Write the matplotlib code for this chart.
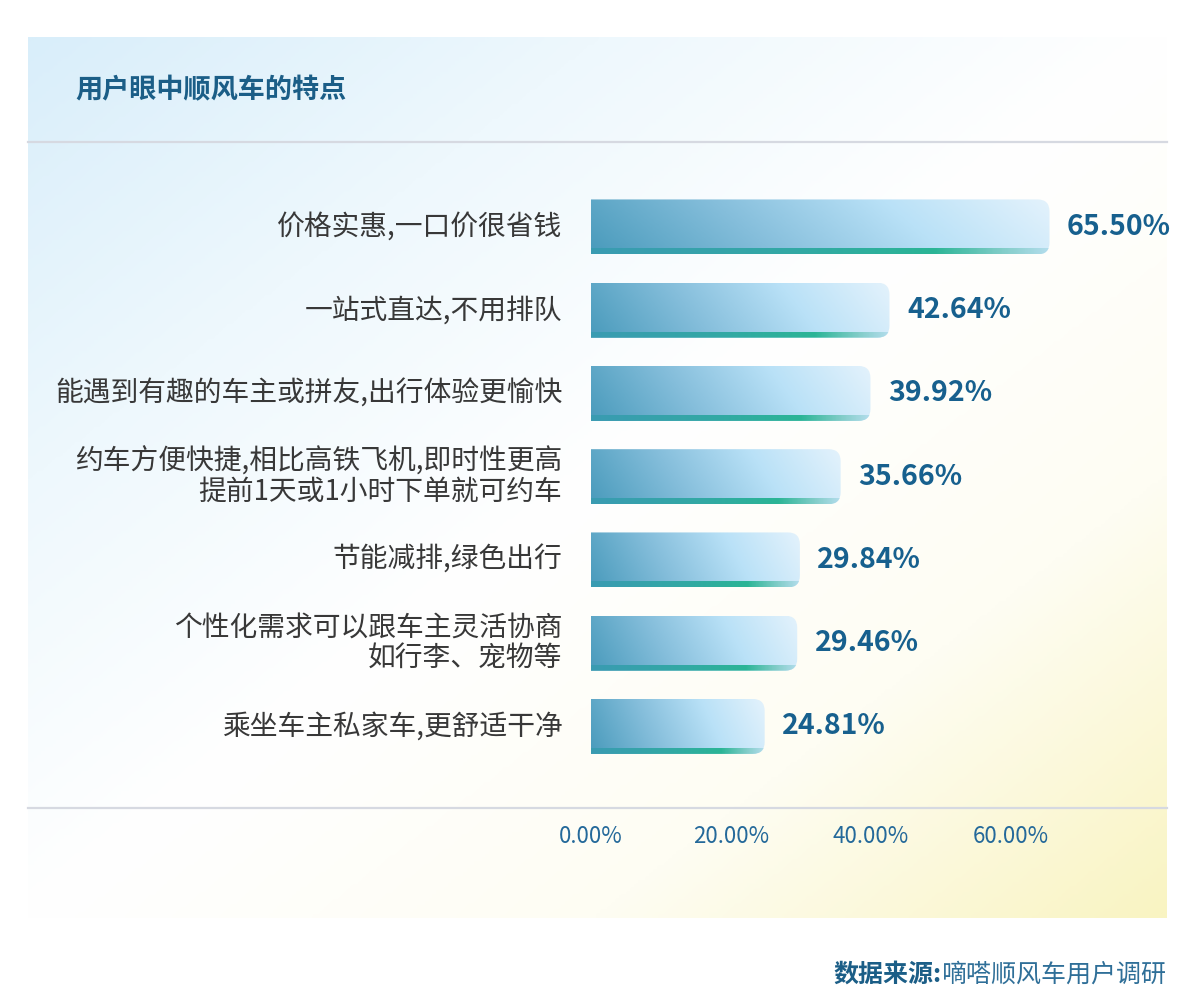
import numpy as np
import matplotlib
matplotlib.use("Agg")
import matplotlib.pyplot as plt
from matplotlib.colors import LinearSegmentedColormap
from matplotlib.patches import FancyBboxPatch

plt.rcParams['font.family'] = ['Noto Sans CJK SC', 'DejaVu Sans']

# 数据
title = "用户眼中顺风车的特点"
categories = [
    "价格实惠,一口价很省钱",
    "一站式直达,不用排队",
    "能遇到有趣的车主或拼友,出行体验更愉快",
    "约车方便快捷,相比高铁飞机,即时性更高\n提前1天或1小时下单就可约车",
    "节能减排,绿色出行",
    "个性化需求可以跟车主灵活协商\n如行李、宠物等",
    "乘坐车主私家车,更舒适干净",
]
values = [65.50, 42.64, 39.92, 35.66, 29.84, 29.46, 24.81]
xticks = [0, 20, 40, 60]
source_head = "数据来源:"
source_body = "嘀嗒顺风车用户调研"

W, H = 1200, 1008
fig = plt.figure(figsize=(W / 100, H / 100), dpi=100)

# 背景面板（渐变）
bg = fig.add_axes([0, 0, 1, 1])
bg.set_xlim(0, W)
bg.set_ylim(H, 0)
bg.axis('off')

bg_cmap = LinearSegmentedColormap.from_list(
    'bg', [(0.0, '#d9eefa'), (0.25, '#eef8fd'), (0.5, '#ffffff'),
           (0.75, '#fefdf3'), (1.0, '#f9f4c2')])
gx, gy = np.meshgrid(np.linspace(0, 1, 300), np.linspace(0, 1, 240))
bg.imshow(bg_cmap(0.5 * gx + 0.5 * gy), extent=(28, 1167, 918, 37),
          aspect='auto', interpolation='bilinear', zorder=0)
for yy in (142, 808):
    bg.plot([28, 1167], [yy, yy], color='#d6d9e1', lw=1.6, zorder=1)

bg.text(75, 90, title, fontsize=19.5, fontweight='bold', color='#1b5e87',
        va='center', ha='left')

src = bg.text(1167, 975, source_body, fontsize=18, color='#2f6f98',
              ha='right', va='center')
bg.annotate(source_head, xy=(0, 0.5), xycoords=src, fontsize=18,
            fontweight='bold', color='#1b5e87', ha='right', va='center')

# 主图
px_per_unit = 7.0
ax = fig.add_axes([591 / W, (H - 808) / H, 80 * px_per_unit / W, 666 / H])
ax.patch.set_alpha(0)

bar_cmap = LinearSegmentedColormap.from_list(
    'bar', [(0.0, '#4a9bbc'), (0.35, '#85bedb'), (0.68, '#b9e1f7'), (1.0, '#e3f2fc')])
strip_cmap = LinearSegmentedColormap.from_list(
    'strip', [(0.0, '#3a9bb2'), (0.45, '#32a9a4'), (0.75, '#2bb596'),
              (0.9, '#82cdc9'), (1.0, '#b3ddec')])

bh = 0.66
strip_h = 0.065
bx, by = np.meshgrid(np.linspace(0, 1, 200), np.linspace(0, 1, 20))
bar_img = bar_cmap(np.clip(0.88 * bx + 0.12 * (1 - by), 0, 1))
strip_img = strip_cmap(np.tile(np.linspace(0, 1, 200), (2, 1)))

r = 1.7
aspect = (12 / 83.25) / r
for i, (cat, v) in enumerate(zip(categories, values)):
    patch = FancyBboxPatch((-4, i - bh / 2), v + 4, bh,
                           boxstyle=f"round,pad=0,rounding_size={r}",
                           mutation_aspect=aspect, facecolor='none',
                           edgecolor='none')
    ax.add_patch(patch)
    im = ax.imshow(bar_img, extent=(0, v, i + bh / 2, i - bh / 2),
                   aspect='auto', interpolation='bilinear', zorder=2)
    im.set_clip_path(patch)
    st = ax.imshow(strip_img, extent=(0, v, i + bh / 2, i + bh / 2 - strip_h),
                   aspect='auto', interpolation='bilinear', zorder=3)
    st.set_clip_path(patch)

    ax.text(v + 2.5, i, f"{v:.2f}%", fontsize=20.5, fontweight='bold',
            color='#17608e', ha='left', va='center')
    ax.text(-4.1, i, cat, fontsize=20, fontweight='medium', color='#383838',
            ha='right', va='center', multialignment='right', linespacing=1.0)

ax.set_xlim(0, 80)
ax.set_ylim(6.98, -1.02)
ax.set_xticks(xticks)
ax.set_xticklabels([f"{t:.2f}%" for t in xticks], fontsize=16, color='#24699a')
ax.set_yticks([])
ax.tick_params(axis='x', length=0, pad=12)
for s in ax.spines.values():
    s.set_visible(False)

fig.savefig('out.png', dpi=100)
